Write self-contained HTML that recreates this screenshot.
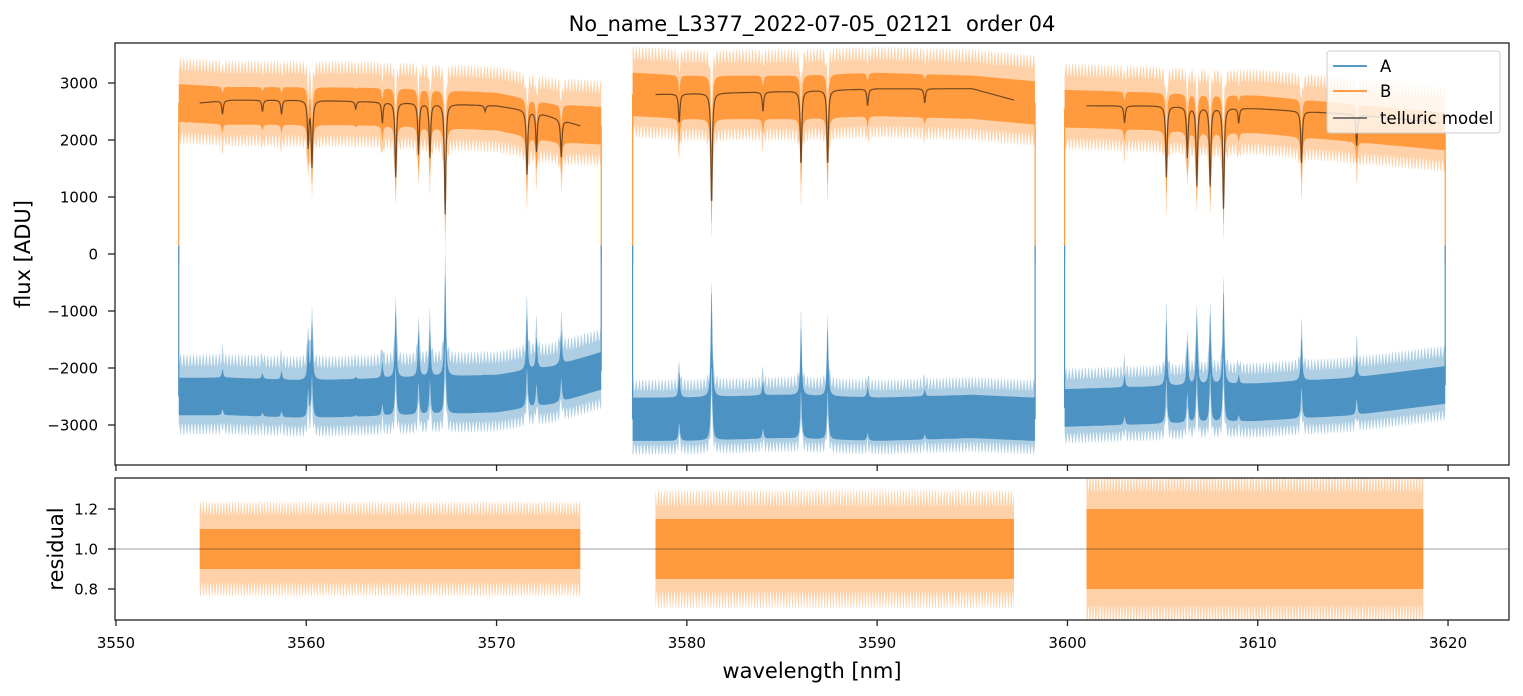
<!DOCTYPE html>
<html><head><meta charset="utf-8">
<style>
html,body{margin:0;padding:0;background:#fff;}
svg{display:block;font-family:"DejaVu Sans","Liberation Sans",sans-serif;}
</style></head>
<body>
<svg id="chart" width="1523" height="696" viewBox="0 0 1523 696" xmlns="http://www.w3.org/2000/svg">
<defs>
<clipPath id="clipTop"><rect x="115" y="43" width="1394" height="422"/></clipPath>
<clipPath id="clipBot"><rect x="115" y="478" width="1394" height="142"/></clipPath>
</defs>
<text x="812" y="31" font-size="21" text-anchor="middle" fill="#000">No_name_L3377_2022-07-05_02121&#160; order 04</text>
<g id="topPlot"></g>
<g id="botPlot"></g>
<text transform="translate(30,254) rotate(-90)" font-size="21" text-anchor="middle">flux [ADU]</text>
<text transform="translate(63,549) rotate(-90)" font-size="21" text-anchor="middle">residual</text>
<text x="812" y="678" font-size="21" text-anchor="middle">wavelength [nm]</text>
<g id="legendG">
<rect x="1327" y="51" width="173" height="82" rx="3" fill="#fff" fill-opacity="0.8" stroke="#ccc"/>
<line x1="1333" y1="66" x2="1367" y2="66" stroke="#1f77b4" stroke-width="1.5"/>
<text x="1380" y="72" font-size="16.5">A</text>
<line x1="1333" y1="91" x2="1367" y2="91" stroke="#ff7f0e" stroke-width="1.5"/>
<text x="1380" y="97" font-size="16.5">B</text>
<line x1="1333" y1="118" x2="1367" y2="118" stroke="#555" stroke-width="1.5"/>
<text x="1380" y="124" font-size="16.5">telluric model</text>
</g>
</svg>
<script>
// ---- data ----
const segStart = [3553.3, 3577.15, 3599.85];
const segEnd = [3575.5, 3598.3, 3619.85];
const bWave = [3553.3,3556,3560,3565,3570,3573,3575.5, 3577.2,3580,3585,3590,3595,3598.3, 3599.9,3605,3610,3615,3619.8];
const bLevel = [2650,2600,2600,2580,2500,2300,2250, 2800,2750,2750,2800,2750,2650, 2550,2500,2450,2300,2150];
const bInnerAmp = [330,380,330];
const bOuterAmp = [800,850,800];
const aLevel = [-2500,-2500,-2550,-2500,-2450,-2300,-2050, -2900,-2900,-2850,-2900,-2850,-2900, -2700,-2650,-2600,-2500,-2300];
const aInnerAmp = [330,380,330];
const aOuterAmp = [750,700,700];
const modelStart = [3554.4, 3578.35, 3601.0];
const modelEnd = [3574.4, 3597.2, 3619.6];
const modelWave = [3554.4,3556,3560,3566,3570,3572,3574.4, 3578.35,3585,3590,3595,3597.2, 3601,3605,3610,3615,3619.6];
const modelLevel = [2650,2700,2700,2650,2600,2500,2250, 2800,2850,2900,2900,2700, 2600,2600,2550,2450,2300];
const lineWave = [3555.6,3557.7,3558.7,3560.1,3560.3,3562.6,3564.0,3564.7,3565.9,3566.5,3567.3,3569.4,3571.6,3572.1,3573.4,
  3579.6,3581.3,3584.0,3586.0,3587.4,3589.5,3592.5,
  3603.0,3605.2,3606.3,3606.8,3607.5,3608.2,3609.0,3612.3,3615.2];
const lineMin = [2450,2500,2450,1900,1550,2550,2300,1350,1750,1700,700,2500,1400,1800,1700,
  2300,850,2500,1550,1550,2600,2650,
  2300,1350,1700,1200,1200,800,2300,1600,1900];
const resStart = [3554.4, 3578.35, 3601.0];
const resEnd = [3574.4, 3597.2, 3618.7];
const resInnerAmp = [0.1,0.15,0.2];
const resOuterAmp = [0.24,0.3,0.4];
const xTicks = [3550,3560,3570,3580,3590,3600,3610,3620];
const yTicksTop = [-3000,-2000,-1000,0,1000,2000,3000];
const yTicksBot = [0.8,1.0,1.2];

// ---- axes ----
const X0=115, X1=1509, xMin=3549.95, pxPerNm=19.03;
const xs = w => X0 + (w - xMin)*pxPerNm;
const ysT = v => 254 - v*0.057;
const ysB = v => 549 - (v-1)*200;
const NS='http://www.w3.org/2000/svg';
function mk(parent, tag, attrs){const e=document.createElementNS(NS,tag);for(const k in attrs)e.setAttribute(k,attrs[k]);parent.appendChild(e);return e;}
function interp(wArr, vArr, w){
  if(w<=wArr[0])return vArr[0];
  for(let i=1;i<wArr.length;i++){ if(w<=wArr[i]){ const t=(w-wArr[i-1])/(wArr[i]-wArr[i-1]); return vArr[i-1]+t*(vArr[i]-vArr[i-1]); } }
  return vArr[vArr.length-1];
}
function segInterp(wArr,vArr,w,lo,hi){
  const W=[],V=[];for(let i=0;i<wArr.length;i++){if(wArr[i]>=lo-0.06&&wArr[i]<=hi+0.06){W.push(wArr[i]);V.push(vArr[i]);}}
  return interp(W,V,w);
}
function lineDrop(w, level){
  let d=0;const g=0.045;
  for(let i=0;i<lineWave.length;i++){const u=(w-lineWave[i])/g;const L=1/(1+u*u);d+=Math.max(0,level-lineMin[i])*L;}
  return d;
}
const topG=document.getElementById('topPlot');
const botG=document.getElementById('botPlot');
const gT=mk(topG,'g',{'clip-path':'url(#clipTop)'});
const gB=mk(botG,'g',{'clip-path':'url(#clipBot)'});
const step=0.02;

function band(g,upper,lower,color,op,name){
  let d='M'+upper.map(p=>p[0].toFixed(1)+','+p[1].toFixed(1)).join('L');
  d+='L'+lower.slice().reverse().map(p=>p[0].toFixed(1)+','+p[1].toFixed(1)).join('L')+'Z';
  const e=mk(g,'path',{d:d,fill:color,'fill-opacity':op,stroke:'none'});
  
  
}

for(let s=0;s<3;s++){
  const bUo=[],bLo=[],bUi=[],bLi=[],aUo=[],aLo=[],aUi=[],aLi=[];
  for(let w=segStart[s]; w<=segEnd[s]+1e-9; w+=step){
    const lvB=segInterp(bWave,bLevel,w,segStart[s],segEnd[s]);
    const lvA=segInterp(bWave,aLevel,w,segStart[s],segEnd[s]);
    const drop=lineDrop(w,lvB);
    const x=xs(w);
    const wig=0.85+0.15*Math.cos(w*37.0);
    bUo.push([x,ysT(lvB-drop*0.5+bOuterAmp[s]*wig)]);
    bLo.push([x,ysT(lvB-drop-bOuterAmp[s]*0.9*wig)]);
    bUi.push([x,ysT(lvB-drop*0.7+bInnerAmp[s])]);
    bLi.push([x,ysT(lvB-drop-bInnerAmp[s])]);
    aUo.push([x,ysT(lvA+drop+aOuterAmp[s]*wig)]);
    aLo.push([x,ysT(lvA+drop*0.5-aOuterAmp[s]*0.9*wig)]);
    aUi.push([x,ysT(lvA+drop+aInnerAmp[s])]);
    aLi.push([x,ysT(lvA+drop*0.7-aInnerAmp[s])]);
  }
  band(gT,bUo,bLo,'#ff9a3e',0.45,'series-b-envelope-'+(s+1));
  band(gT,bUi,bLi,'#ff9a3e',1,'series-b-core-'+(s+1));
  band(gT,aUo,aLo,'#4c92c3',0.45,'series-a-envelope-'+(s+1));
  band(gT,aUi,aLi,'#4c92c3',1,'series-a-core-'+(s+1));
  [segStart[s],segEnd[s]].forEach(w=>{
    const lvB=segInterp(bWave,bLevel,w,segStart[s],segEnd[s]);
    const lvA=segInterp(bWave,aLevel,w,segStart[s],segEnd[s]);
    const e1=mk(gT,'line',{x1:xs(w),x2:xs(w),y1:ysT(lvB),y2:ysT(-150),stroke:'#ff9a3e','stroke-width':1.2});
    
    
    const e2=mk(gT,'line',{x1:xs(w),x2:xs(w),y1:ysT(150),y2:ysT(lvA),stroke:'#4c92c3','stroke-width':1.2});
    
    
  });
  let pts=[];
  for(let w=modelStart[s]; w<=modelEnd[s]+1e-9; w+=step){
    const lv=segInterp(modelWave,modelLevel,w,modelStart[s],modelEnd[s]);
    pts.push(xs(w).toFixed(1)+','+ysT(lv-lineDrop(w,lv)).toFixed(1));
  }
  const m=mk(gT,'polyline',{points:pts.join(' '),fill:'none',stroke:'#5a3a1c','stroke-width':1.2,'stroke-opacity':0.85});
  
  
  const rUo=[],rLo=[],rUi=[],rLi=[];
  for(let w=resStart[s]; w<=resEnd[s]+1e-9; w+=step){
    const x=xs(w);const wig=0.85+0.15*Math.cos(w*41.0);
    rUo.push([x,ysB(1+resOuterAmp[s]*wig)]);rLo.push([x,ysB(1-resOuterAmp[s]*wig)]);
    rUi.push([x,ysB(1+resInnerAmp[s])]);rLi.push([x,ysB(1-resInnerAmp[s])]);
  }
  band(gB,rUo,rLo,'#ff9a3e',0.45,'residual-envelope-'+(s+1));
  band(gB,rUi,rLi,'#ff9a3e',1,'residual-core-'+(s+1));
}
const hl=mk(gB,'line',{x1:X0,x2:X1,y1:ysB(1),y2:ysB(1),stroke:'#000','stroke-width':0.8,'stroke-opacity':0.5});



[[43,465,topG],[478,620,botG]].forEach(([y0,y1,g],k)=>{
  const r=mk(g,'rect',{x:X0,y:y0,width:X1-X0,height:y1-y0,fill:'none',stroke:'#222','stroke-width':1.3});
  
  
  xTicks.forEach(t=>{
    const tk=mk(g,'line',{x1:xs(t),x2:xs(t),y1:y1,y2:y1+6,stroke:'#222','stroke-width':1.3});
    
    
    if(k===1){
      const tl=mk(g,'text',{x:xs(t),y:y1+28,'font-size':15,'text-anchor':'middle'});
      tl.textContent=t;
      
      
    }
  });
});
yTicksTop.forEach(t=>{
  const tk=mk(topG,'line',{x1:X0-7,x2:X0,y1:ysT(t),y2:ysT(t),stroke:'#222','stroke-width':1.3});
  
  
  const tl=mk(topG,'text',{x:98,y:ysT(t)+5.5,'font-size':15,'text-anchor':'end'});
  tl.textContent=(t<0?'\u2212'+(-t):t);
  
  
});
yTicksBot.forEach(t=>{
  const tk=mk(botG,'line',{x1:X0-7,x2:X0,y1:ysB(t),y2:ysB(t),stroke:'#222','stroke-width':1.3});
  
  
  const tl=mk(botG,'text',{x:98,y:ysB(t)+5.5,'font-size':15,'text-anchor':'end'});
  tl.textContent=t.toFixed(1);
  
  
});
document.getElementById('chart').appendChild(document.getElementById('legendG'));
</script>
</body></html>
